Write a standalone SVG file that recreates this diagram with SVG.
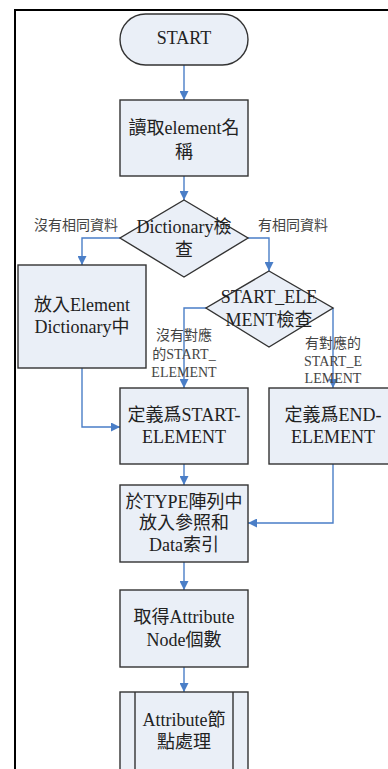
<svg xmlns="http://www.w3.org/2000/svg" width="388" height="769" viewBox="0 0 388 769">
<style>
.n{fill:#EAEFF7;stroke:#333;stroke-width:1.4}
.t{font-family:"Liberation Serif","Noto Sans CJK TC",serif;font-size:18px;fill:#222;text-anchor:middle}
.l{font-family:"Liberation Serif","Noto Sans CJK TC",serif;font-size:14px;fill:#444;text-anchor:middle}
.c{fill:none;stroke:#4A7EC7;stroke-width:1.4}
</style>
<defs>
<marker id="a" viewBox="0 0 10 10" refX="10" refY="5" markerWidth="10" markerHeight="9" markerUnits="userSpaceOnUse" orient="auto">
<path d="M0,0 L10,5 L0,10 z" fill="#4A7EC7"/>
</marker>
</defs>
<rect width="388" height="769" fill="#fff"/>
<path d="M15,769 V10 H388" fill="none" stroke="#000" stroke-width="2"/>
<g id="connectors">
<path class="c" d="M184,65 V100" marker-end="url(#a)"/>
<path class="c" d="M184,176 V200" marker-end="url(#a)"/>
<path class="c" d="M120,238 H82 V265" marker-end="url(#a)"/>
<path class="c" d="M248,238 H269 V271" marker-end="url(#a)"/>
<path class="c" d="M206,308 H184 V388" marker-end="url(#a)"/>
<path class="c" d="M333,308 V388" marker-end="url(#a)"/>
<path class="c" d="M82,368 V427 H120" marker-end="url(#a)"/>
<path class="c" d="M333,464 V523 H248" marker-end="url(#a)"/>
<path class="c" d="M184,464 V485" marker-end="url(#a)"/>
<path class="c" d="M184,562 V590" marker-end="url(#a)"/>
<path class="c" d="M184,667 V692" marker-end="url(#a)"/>
</g>
<g id="labels">
<text class="l" x="76" y="230">沒有相同資料</text>
<text class="l" x="293" y="230">有相同資料</text>
<text class="l" x="184" y="340">沒有對應</text>
<text class="l" x="184" y="359">的START_</text>
<text class="l" x="184" y="377">ELEMENT</text>
<text class="l" x="333" y="348">有對應的</text>
<text class="l" x="333" y="366">START_E</text>
<text class="l" x="333" y="383">LEMENT</text>
</g>
<g id="start">
<rect class="n" x="120" y="14" width="128" height="51" rx="25.5"/>
<text class="t" x="184" y="44">START</text>
</g>
<g id="read">
<rect class="n" x="120" y="100" width="128" height="76"/>
<text class="t" x="184" y="134">讀取element名</text>
<text class="t" x="184" y="158">稱</text>
</g>
<g id="dict">
<path class="n" d="M184,200 L248,238 L184,277 L120,238 Z"/>
<text class="t" x="184" y="233">Dictionary檢</text>
<text class="t" x="184" y="256">查</text>
</g>
<g id="put">
<rect class="n" x="18" y="265" width="128" height="103"/>
<text class="t" x="82" y="311">放入Element</text>
<text class="t" x="82" y="333">Dictionary中</text>
</g>
<g id="startel">
<path class="n" d="M269,271 L333,308 L269,347 L206,308 Z"/>
<text class="t" x="269" y="303">START_ELE</text>
<text class="t" x="269" y="326">MENT檢查</text>
</g>
<g id="defstart">
<rect class="n" x="120" y="388" width="128" height="76"/>
<text class="t" x="184" y="421">定義爲START-</text>
<text class="t" x="184" y="443">ELEMENT</text>
</g>
<g id="defend">
<rect class="n" x="269" y="388" width="130" height="76"/>
<text class="t" x="333" y="421">定義爲END-</text>
<text class="t" x="333" y="443">ELEMENT</text>
</g>
<g id="type">
<rect class="n" x="120" y="485" width="128" height="77"/>
<text class="t" x="184" y="508">於TYPE陣列中</text>
<text class="t" x="184" y="529">放入參照和</text>
<text class="t" x="184" y="551">Data索引</text>
</g>
<g id="count">
<rect class="n" x="120" y="590" width="128" height="77"/>
<text class="t" x="184" y="623">取得Attribute</text>
<text class="t" x="184" y="646">Node個數</text>
</g>
<g id="attr">
<rect class="n" x="120" y="692" width="128" height="90"/>
<path d="M135,692 V782 M233,692 V782" stroke="#333" stroke-width="1.4"/>
<text class="t" x="184" y="726">Attribute節</text>
<text class="t" x="184" y="748">點處理</text>
</g>
</svg>
